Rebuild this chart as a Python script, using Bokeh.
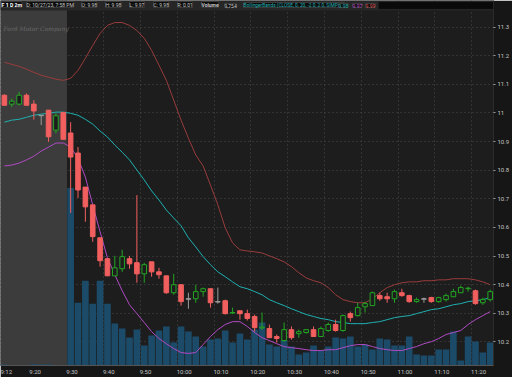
from bokeh.plotting import figure
from bokeh.models import Range1d, FixedTicker, BoxAnnotation, Label, ColumnDataSource
from bokeh.embed import file_html
from bokeh.resources import INLINE

# ---- data: 2-minute bars, F (Ford), 10/27/23 ----
bar_times = ["9:12", "9:14", "9:16", "9:18", "9:20", "9:22", "9:24", "9:26", "9:28",
             "9:30", "9:32", "9:34", "9:36", "9:38", "9:40", "9:42", "9:44", "9:46", "9:48",
             "9:50", "9:52", "9:54", "9:56", "9:58", "10:00", "10:02", "10:04", "10:06", "10:08",
             "10:10", "10:12", "10:14", "10:16", "10:18", "10:20", "10:22", "10:24", "10:26", "10:28",
             "10:30", "10:32", "10:34", "10:36", "10:38", "10:40", "10:42", "10:44", "10:46", "10:48",
             "10:50", "10:52", "10:54", "10:56", "10:58", "11:00", "11:02", "11:04", "11:06", "11:08",
             "11:10", "11:12", "11:14", "11:16", "11:18", "11:20", "11:22", "11:24"]

opens = [11.062, 11.031, 11.031, 11.062, 11.031, 10.992, 11.010, 10.940, 11.002,
         10.930, 10.860, 10.741, 10.679, 10.564, 10.491, 10.431, 10.456, 10.491, 10.477,
         10.438, 10.480, 10.445, 10.431, 10.372, 10.400, 10.351, 10.351, 10.376, 10.386,
         10.341, 10.344, 10.301, 10.309, 10.299, 10.289, 10.249, 10.247, 10.219, 10.205,
         10.243, 10.229, 10.233, 10.243, 10.219, 10.240, 10.261, 10.240, 10.299, 10.292,
         10.323, 10.327, 10.362, 10.358, 10.351, 10.372, 10.362, 10.341, 10.351, 10.355,
         10.341, 10.348, 10.358, 10.372, 10.386, 10.379, 10.337, 10.348]
highs = [11.065, 11.050, 11.074, 11.068, 11.045, 10.992, 11.010, 10.999, 11.002,
         10.968, 10.881, 10.741, 10.679, 10.564, 10.491, 10.501, 10.522, 10.501, 10.713,
         10.477, 10.480, 10.459, 10.431, 10.438, 10.400, 10.372, 10.400, 10.390, 10.386,
         10.390, 10.348, 10.320, 10.309, 10.313, 10.296, 10.303, 10.261, 10.226, 10.268,
         10.254, 10.243, 10.243, 10.254, 10.254, 10.268, 10.278, 10.296, 10.306, 10.337,
         10.341, 10.376, 10.372, 10.372, 10.383, 10.386, 10.365, 10.355, 10.355, 10.358,
         10.358, 10.369, 10.386, 10.397, 10.393, 10.383, 10.355, 10.383]
lows = [11.025, 11.021, 11.027, 11.027, 10.977, 10.958, 10.899, 10.929, 10.908,
        10.651, 10.703, 10.620, 10.550, 10.463, 10.431, 10.431, 10.445, 10.456, 10.407,
        10.407, 10.428, 10.421, 10.368, 10.365, 10.327, 10.316, 10.337, 10.358, 10.320,
        10.334, 10.296, 10.299, 10.278, 10.275, 10.236, 10.243, 10.215, 10.198, 10.201,
        10.208, 10.215, 10.229, 10.219, 10.219, 10.236, 10.236, 10.236, 10.271, 10.289,
        10.303, 10.327, 10.344, 10.337, 10.337, 10.358, 10.337, 10.337, 10.337, 10.337,
        10.337, 10.341, 10.358, 10.372, 10.376, 10.330, 10.330, 10.341]
closes = [11.027, 11.041, 11.062, 11.027, 11.007, 10.992, 10.917, 10.990, 10.908,
          10.846, 10.731, 10.672, 10.568, 10.484, 10.431, 10.459, 10.498, 10.473, 10.438,
          10.470, 10.445, 10.435, 10.372, 10.400, 10.341, 10.351, 10.376, 10.386, 10.337,
          10.341, 10.299, 10.303, 10.299, 10.282, 10.250, 10.252, 10.215, 10.212, 10.243,
          10.215, 10.236, 10.243, 10.219, 10.247, 10.261, 10.240, 10.292, 10.285, 10.320,
          10.334, 10.372, 10.351, 10.351, 10.376, 10.362, 10.341, 10.348, 10.351, 10.341,
          10.355, 10.362, 10.376, 10.390, 10.388, 10.334, 10.348, 10.376]
volumes = [400, 150, 100, 150, 500, 450, 500, 100, 150,
           71200, 25200, 34000, 24800, 34000, 24800, 16800, 14800, 11200, 14400,
           8000, 12000, 14000, 15600, 9200, 15600, 13600, 11600, 7600, 10400,
           10800, 14000, 9200, 12800, 10400, 14400, 17200, 8400, 7600, 10000,
           7600, 4400, 5200, 8000, 6000, 7600, 11200, 10800, 11600, 7600,
           8400, 6400, 10800, 10400, 8000, 8000, 11600, 4400, 4000, 4000,
           6400, 6400, 13600, 2000, 11600, 9600, 5200, 9200]
bb_upper = [11.177, 11.170, 11.163, 11.153, 11.142, 11.132, 11.125, 11.118, 11.114,
            11.121, 11.149, 11.191, 11.236, 11.278, 11.306, 11.316, 11.316, 11.306, 11.288,
            11.261, 11.219, 11.167, 11.114, 11.045, 10.975, 10.912, 10.853, 10.815, 10.748,
            10.679, 10.599, 10.546, 10.522, 10.518, 10.515, 10.511, 10.501, 10.491, 10.480,
            10.463, 10.442, 10.424, 10.414, 10.407, 10.390, 10.365, 10.348, 10.341, 10.337,
            10.337, 10.351, 10.372, 10.390, 10.400, 10.407, 10.410, 10.410, 10.414, 10.414,
            10.417, 10.417, 10.421, 10.421, 10.421, 10.417, 10.410, 10.400]
bb_mid = [10.968, 10.975, 10.978, 10.985, 10.992, 10.996, 10.999, 11.003, 11.003,
          10.999, 10.992, 10.978, 10.961, 10.937, 10.916, 10.888, 10.863, 10.836, 10.801,
          10.766, 10.728, 10.696, 10.661, 10.633, 10.606, 10.564, 10.532, 10.498, 10.470,
          10.445, 10.428, 10.410, 10.393, 10.386, 10.376, 10.365, 10.348, 10.337, 10.327,
          10.316, 10.306, 10.296, 10.289, 10.282, 10.278, 10.271, 10.268, 10.264, 10.264,
          10.264, 10.268, 10.271, 10.278, 10.285, 10.289, 10.292, 10.299, 10.306, 10.313,
          10.316, 10.323, 10.330, 10.334, 10.341, 10.344, 10.348, 10.355]
bb_lower = [10.815, 10.818, 10.825, 10.836, 10.849, 10.867, 10.881, 10.895, 10.895,
            10.881, 10.842, 10.776, 10.679, 10.585, 10.494, 10.435, 10.379, 10.330, 10.299,
            10.268, 10.236, 10.212, 10.194, 10.177, 10.163, 10.160, 10.163, 10.191, 10.219,
            10.243, 10.261, 10.271, 10.271, 10.254, 10.233, 10.215, 10.205, 10.194, 10.184,
            10.180, 10.177, 10.173, 10.170, 10.170, 10.173, 10.173, 10.180, 10.187, 10.191,
            10.191, 10.184, 10.177, 10.173, 10.170, 10.170, 10.177, 10.184, 10.194, 10.201,
            10.212, 10.226, 10.233, 10.240, 10.261, 10.278, 10.292, 10.306]

time_labels = ["9:12", "9:20", "9:30", "9:40", "9:50", "10:00", "10:10", "10:20",
               "10:30", "10:40", "10:50", "11:00", "11:10", "11:20"]
price_ticks = [10.2, 10.3, 10.4, 10.5, 10.6, 10.7, 10.8, 10.9, 11.0, 11.1, 11.2, 11.3]


def minutes(t):
    h, m = t.split(":")
    return int(h) * 60 + int(m) - 570   # minutes after 9:30


# ---- style ----
BG = "#1d1d1d"
UP = "#23a523"
DN = "#f25f5f"
FLAT = "#9a9a9a"

xs = [minutes(t) + 1 for t in bar_times]
colors, fills = [], []
for o, c in zip(opens, closes):
    if c > o:
        colors.append(UP); fills.append(BG)
    elif c < o:
        colors.append(DN); fills.append(DN)
    else:
        colors.append(FLAT); fills.append(FLAT)
tops = [max(o, c) for o, c in zip(opens, closes)]
bots = [min(o, c) for o, c in zip(opens, closes)]
bots = [b if t - b > 0.0015 else t - 0.0015 for t, b in zip(tops, bots)]

src = ColumnDataSource(dict(x=xs, o=opens, h=highs, l=lows, c=closes, top=tops, bot=bots,
                            col=colors, fill=fills, vol=volumes,
                            up=bb_upper, mid=bb_mid, lo=bb_lower))

Y_TOP = 11.393     # top of the window (header strip lies over the frame)
Y_HDR = 11.3582    # bottom edge of header strip
p = figure(width=512, height=377, output_backend="svg", toolbar_location=None,
           x_range=Range1d(-18.06, 115.9), y_range=Range1d(10.1178, Y_TOP),
           y_axis_location="right",
           min_border_left=0, min_border_right=15, min_border_top=0, min_border_bottom=11,
           background_fill_color=BG, border_fill_color="#161616", outline_line_color=None)
p.extra_y_ranges = {"vol": Range1d(0, 142400 * 366 / 356)}

# premarket shading
p.add_layout(BoxAnnotation(right=0, fill_color="#3c3c3c", fill_alpha=1.0,
                           line_color=None, level="underlay"))

# grids
p.xgrid.ticker = FixedTicker(ticks=[minutes(t) for t in time_labels])
p.ygrid.ticker = FixedTicker(ticks=price_ticks)
for g in (p.xgrid, p.ygrid):
    g.grid_line_color = "#4a4a4a"
    g.grid_line_dash = "1 3"
    g.grid_line_width = 1
    g.level = "underlay"

# volume
p.vbar(x="x", top="vol", bottom=0, width=1.8, source=src, y_range_name="vol",
       fill_color="#1b4b69", line_color=None)

# bollinger bands
p.line("x", "up", source=src, color="#9a3c3c", line_width=1)
p.line("x", "mid", source=src, color="#1fb0b0", line_width=1)
p.line("x", "lo", source=src, color="#b14bc4", line_width=1)

# candles
p.segment(x0="x", y0="l", x1="x", y1="h", source=src, line_color="col", line_width=1)
p.vbar(x="x", top="top", bottom="bot", width=1.25, source=src,
       fill_color="fill", line_color="col", line_width=1)

# axes
ya = p.yaxis[0]
ya.ticker = FixedTicker(ticks=price_ticks)
ya.major_label_overrides = {11.0: "11"}
ya.major_label_text_font = "Roboto"
ya.major_label_text_font_size = "6px"
ya.major_label_text_color = "#c4c4c4"
ya.major_tick_out = 2
ya.major_tick_in = 0
ya.major_tick_line_color = "#9a9a9a"
ya.minor_tick_line_color = None
ya.axis_line_color = "#2c2c2c"
ya.major_label_standoff = 2

xa = p.xaxis[0]
offs = [minutes(t) + (1.35 if len(t) == 4 else 1.85) for t in time_labels]
xa.ticker = FixedTicker(ticks=offs)
xa.major_label_overrides = {o: t for o, t in zip(offs, time_labels)}
xa.major_label_text_font = "Roboto"
xa.major_label_text_font_size = "6px"
xa.major_label_text_color = "#c4c4c4"
xa.major_tick_out = 0
xa.major_tick_in = 0
xa.minor_tick_line_color = None
xa.axis_line_color = "#555555"
xa.major_label_standoff = 2

# watermark
p.add_layout(Label(x=3, y=334, x_units="screen", y_units="screen", text="Ford Motor Company",
                   text_font="DejaVu Serif", text_font_style="italic", text_font_size="6px",
                   text_color="#6a6a6a"))

# header strip (drawn over the top of the frame)
p.add_layout(BoxAnnotation(bottom=Y_HDR, fill_color="#262626", fill_alpha=1.0,
                           line_color=None, level="annotation"))
p.add_layout(BoxAnnotation(bottom=Y_HDR + 0.004, top=Y_TOP - 0.004, left=84.6,
                           fill_color="#0a0a0a", fill_alpha=1.0, line_color="#3a3a3a",
                           line_width=1, level="annotation"))
header = [("F 1 D 2m", 1, "#ffffff", "bold", "5.2px"),
          ("D: 10/27/23, 7:58 PM", 26, "#c8c8c8", "normal", "5px"),
          ("O: 9.98", 81, "#c8c8c8", "normal", "5px"),
          ("H: 9.98", 105, "#c8c8c8", "normal", "5px"),
          ("L: 9.97", 129, "#c8c8c8", "normal", "5px"),
          ("C: 9.98", 153, "#c8c8c8", "normal", "5px"),
          ("R: 0.01", 177, "#c8c8c8", "normal", "5px"),
          ("Volume", 201, "#c8c8c8", "bold", "5px"),
          ("9,754", 224, "#c8c8c8", "normal", "5px"),
          ("BollingerBands (CLOSE, 0, 20, -2.0, 2.0, SIMPLE)", 243, "#22b5b5", "normal", "4.8px"),
          ("9.98", 338, "#22b5b5", "normal", "5px"),
          ("9.97", 352, "#c455d6", "normal", "5px"),
          ("9.99", 365, "#e05555", "normal", "5px")]
for txt, x0, col, sty, fs in header:
    p.add_layout(Label(x=x0, y=358, x_units="screen", y_units="screen", text=txt,
                       text_font="Roboto", text_font_size=fs, text_font_style=sty,
                       text_color=col, background_fill_color="#0c0c0c",
                       border_line_color="#3a3a3a", border_line_width=1))

open("out.html", "w").write(file_html(p, INLINE))
